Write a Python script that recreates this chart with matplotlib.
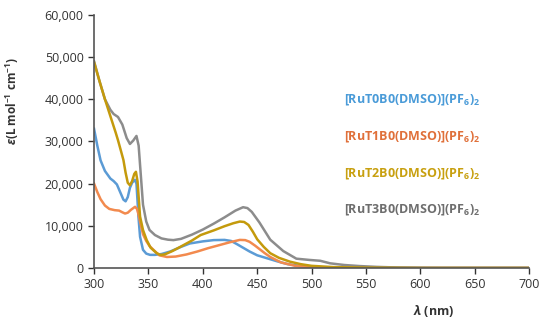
import matplotlib.pyplot as plt

plt.rcParams['font.family'] = ['Open Sans', 'DejaVu Sans']
plt.rcParams['mathtext.fontset'] = 'custom'
plt.rcParams['mathtext.rm'] = 'Open Sans'
plt.rcParams['mathtext.it'] = 'Open Sans:italic:bold'
plt.rcParams['mathtext.bf'] = 'Open Sans:bold'

# wavelength (nm) / molar absorptivity (L mol-1 cm-1)
nm_t0 = [300, 303, 306, 310, 315, 318, 321, 324, 327, 329, 331, 333, 335, 337.5, 339, 340.8,
         342.3, 345, 348, 351.5, 356, 362, 370, 380, 388, 400, 410, 420, 426, 431, 437, 443,
         450, 459, 468, 478, 490, 510, 540, 600, 700]
eps_t0 = [33000, 29000, 25500, 23000, 21200, 20600, 19800, 18000, 16200, 15800, 16800, 19000,
          20200, 20900, 20000, 12200, 7400, 4300, 3400, 3100, 3100, 3300, 3900, 5000, 5800,
          6300, 6600, 6650, 6400, 5700, 4800, 3900, 3000, 2300, 1600, 900, 450, 150, 30, 0, 0]

nm_t1 = [300, 303, 306, 310, 314, 319, 323, 326, 328.5, 331, 334, 337.7, 339.5, 341, 343,
         345, 348, 351, 355, 360, 367, 375, 385, 395, 405, 415, 425, 434, 439, 443, 448, 452,
         457, 462, 472, 485, 500, 520, 550, 700]
eps_t1 = [20000, 18000, 16300, 14800, 14000, 13700, 13600, 13200, 12900, 13100, 13800, 14500,
          14000, 12600, 10200, 8000, 6400, 5200, 4200, 3000, 2600, 2700, 3200, 3900, 4700,
          5400, 6100, 6650, 6600, 6200, 5300, 4500, 3500, 2600, 1300, 500, 200, 60, 0, 0]

nm_t2 = [300, 305, 310, 315, 320, 322, 325, 327, 329, 331, 333, 335, 337, 338.5, 340, 342.3,
         345, 348.4, 352, 357.6, 361, 365, 372, 380, 390, 398, 410, 420, 428, 434, 438, 442,
         446, 450, 456, 462, 470, 480, 490, 500, 520, 550, 600, 700]
eps_t2 = [48800, 44300, 40000, 36000, 32000, 30300, 27500, 25600, 22600, 20200, 19600, 20600,
          22300, 22800, 20500, 12200, 9000, 6600, 4800, 3500, 3100, 3200, 4000, 5100, 6500,
          7800, 8900, 9900, 10600, 11000, 10900, 10200, 8600, 6800, 5000, 3500, 2400, 1500,
          900, 500, 200, 80, 0, 0]

nm_t3 = [300, 305, 310, 315, 318, 322, 326, 330, 333, 336, 339, 341, 343, 345, 348, 351, 356,
         362, 368, 373, 380, 390, 400, 410, 420, 430, 437, 441, 445, 452, 462, 474, 486, 498,
         508, 517, 530, 544, 560, 580, 600, 620, 700]
eps_t3 = [49000, 44300, 40000, 37500, 36500, 35800, 34000, 30800, 29400, 30200, 31300, 29000,
          22000, 15000, 11000, 9000, 7800, 7000, 6700, 6600, 6900, 7900, 9100, 10500, 12000,
          13600, 14400, 14200, 13300, 10800, 6700, 4000, 2200, 1900, 1700, 1100, 700, 450,
          250, 100, 30, 0, 0]

labels = [r'[RuT0B0(DMSO)](PF$_\mathbf{6}$)$_\mathbf{2}$', r'[RuT1B0(DMSO)](PF$_\mathbf{6}$)$_\mathbf{2}$',
          r'[RuT2B0(DMSO)](PF$_\mathbf{6}$)$_\mathbf{2}$', r'[RuT3B0(DMSO)](PF$_\mathbf{6}$)$_\mathbf{2}$']
line_colors = ['#5B9BD5', '#F28A4E', '#C49A0C', '#8C8C8C']
text_colors = ['#4A9BD8', '#E0703A', '#C8A010', '#6E6E6E']

fig, ax = plt.subplots(figsize=(5.5, 3.24), dpi=100)
fig.subplots_adjust(left=0.171, right=0.962, bottom=0.173, top=0.954)

series = [(nm_t0, eps_t0), (nm_t1, eps_t1), (nm_t3, eps_t3), (nm_t2, eps_t2)]
order = [0, 1, 3, 2]
for (x, y), i in zip(series, order):
    ax.plot(x, y, color=line_colors[i], lw=1.8, solid_joinstyle='round')

ax.set_xlim(300, 700)
ax.set_ylim(0, 60000)
ax.set_xticks(range(300, 701, 50))
ax.set_yticks(range(0, 60001, 10000))
ax.set_yticklabels([f'{v:,}' for v in range(0, 60001, 10000)])
ax.tick_params(labelsize=9, colors='#333333', length=4, width=1, direction='out')
for s in ['top', 'right']:
    ax.spines[s].set_visible(False)
for s in ['left', 'bottom']:
    ax.spines[s].set_color('#555555')
    ax.spines[s].set_linewidth(1.2)

ax.set_ylabel(r'$\varepsilon$(L mol$^{\mathbf{-1}}$ cm$^{\mathbf{-1}}$)', fontsize=8.5,
              color='#333333', fontweight='bold')
ax.yaxis.set_label_coords(-0.168, 0.66)
ax.set_xlabel(r'$\lambda$ (nm)', fontsize=9, color='#333333', fontweight='bold')
ax.xaxis.set_label_coords(0.78, -0.14)

for k, (lab, col) in enumerate(zip(labels, text_colors)):
    ax.text(0.575, 0.665 - k * 0.145, lab, transform=ax.transAxes, color=col,
            fontsize=9, fontweight='bold', va='center', ha='left')

fig.savefig('out.png', dpi=100)
